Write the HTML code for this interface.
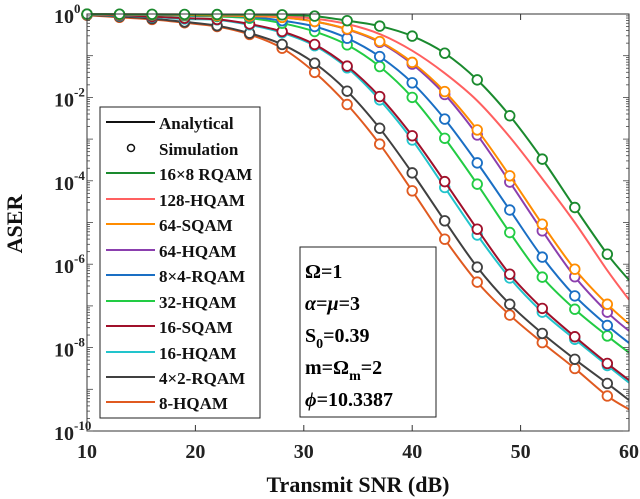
<!DOCTYPE html>
<html><head><meta charset="utf-8"><style>
body{margin:0;background:#fff;}
svg{display:block;font-family:"Liberation Serif",serif;font-weight:bold;}
</style></head><body>
<svg id="chart" width="640" height="499" viewBox="0 0 640 499" xmlns="http://www.w3.org/2000/svg">
<rect width="640" height="499" fill="#fff"/>
<g id="marks"></g>
<g id="axes"></g>
<g id="legend">
  <rect x="100" y="107" width="160" height="311" fill="#fff" stroke="#222" stroke-width="1"/>
</g>
<g id="info-box">
  <rect x="300" y="247" width="136" height="170" fill="#fff" stroke="#222" stroke-width="1"/>
  <text x="305" y="278" font-size="20">Ω=1</text>
  <text x="305" y="310" font-size="20"><tspan font-style="italic">α</tspan>=<tspan font-style="italic">μ</tspan>=3</text>
  <text x="305" y="342" font-size="20">S<tspan font-size="14" dy="6">0</tspan><tspan dy="-6">=0.39</tspan></text>
  <text x="305" y="374" font-size="20">m=Ω<tspan font-size="14" dy="6">m</tspan><tspan dy="-6">=2</tspan></text>
  <text x="305" y="406" font-size="20"><tspan font-style="italic">ϕ</tspan>=10.3387</text>
</g>
</svg>
<script>
const snr = [10,13,16,19,22,25,28,31,34,37,40,43,46,49,52,55,58,60];
const seriesNames = ["16×8 RQAM","128-HQAM","64-SQAM","64-HQAM","8×4-RQAM","32-HQAM","16-SQAM","16-HQAM","4×2-RQAM","8-HQAM"];
const seriesColors = ["#1a8a2e","#ff6060","#ff8c00","#8b3fae","#1a6fc4","#22cc44","#a0102a","#22c4cc","#404040","#e05a20"];
const hasMarkers = [true,false,true,true,true,true,true,true,true,true];
// log10(ASER) values
const s16x8 = [-0.003,-0.005,-0.007,-0.01,-0.012,-0.015,-0.02,-0.05,-0.16,-0.29,-0.53,-0.94,-1.58,-2.44,-3.48,-4.64,-5.76,-6.38];
const s128h = [-0.004,-0.006,-0.008,-0.012,-0.016,-0.025,-0.05,-0.11,-0.24,-0.48,-0.88,-1.42,-2.08,-2.95,-3.95,-5.0,-6.15,-6.85];
const s64s  = [-0.005,-0.01,-0.015,-0.02,-0.035,-0.05,-0.08,-0.18,-0.36,-0.66,-1.16,-1.86,-2.78,-3.88,-5.04,-6.12,-6.96,-7.43];
const s64h  = [-0.005,-0.01,-0.015,-0.02,-0.035,-0.05,-0.08,-0.18,-0.37,-0.68,-1.2,-1.93,-2.9,-4.03,-5.2,-6.3,-7.15,-7.6];
const s8x4  = [-0.006,-0.012,-0.02,-0.03,-0.045,-0.07,-0.16,-0.30,-0.58,-1.02,-1.65,-2.52,-3.57,-4.70,-5.83,-6.76,-7.47,-7.89];
const s32h  = [-0.007,-0.015,-0.025,-0.04,-0.06,-0.10,-0.22,-0.42,-0.74,-1.26,-2.0,-2.98,-4.08,-5.24,-6.31,-7.08,-7.72,-8.12];
const s16s  = [-0.01,-0.03,-0.06,-0.1,-0.13,-0.24,-0.42,-0.73,-1.25,-1.98,-2.92,-4.02,-5.16,-6.24,-7.06,-7.74,-8.38,-8.78];
const s16h  = [-0.01,-0.04,-0.07,-0.12,-0.14,-0.26,-0.45,-0.76,-1.29,-2.06,-3.02,-4.16,-5.30,-6.33,-7.15,-7.8,-8.43,-8.84];
const s4x2  = [-0.02,-0.06,-0.11,-0.19,-0.28,-0.46,-0.73,-1.18,-1.85,-2.74,-3.81,-4.96,-6.07,-6.96,-7.66,-8.28,-8.86,-9.26];
const s8h   = [-0.03,-0.08,-0.13,-0.21,-0.30,-0.49,-0.82,-1.40,-2.17,-3.12,-4.24,-5.40,-6.43,-7.22,-7.88,-8.50,-9.16,-9.48];
const allSeries = [s16x8,s128h,s64s,s64h,s8x4,s32h,s16s,s16h,s4x2,s8h];
const xTicks = [10,20,30,40,50,60];
const yTickExps = [0,-2,-4,-6,-8,-10];

const X0=87,X1=629,Y0=14,Y1=431;
const xScale = v => X0 + (v-10)/50*(X1-X0);
const yScale = lv => Y0 + (-lv)/10*(Y1-Y0);
const NS="http://www.w3.org/2000/svg";
function mk(tag, attrs, parent){const e=document.createElementNS(NS,tag);for(const k in attrs)e.setAttribute(k,attrs[k]);parent.appendChild(e);return e;}
const marks=document.getElementById('marks'), axes=document.getElementById('axes'), legend=document.getElementById('legend');

function pathFor(vals){
  const p=snr.map((s,i)=>[xScale(s),yScale(vals[i])]);
  let d=`M${p[0][0]},${p[0][1]}`;
  for(let i=0;i<p.length-1;i++){
    const a=p[Math.max(i-1,0)],b=p[i],c=p[i+1],e=p[Math.min(i+2,p.length-1)];
    const c1=[b[0]+(c[0]-a[0])/6,b[1]+(c[1]-a[1])/6];
    const c2=[c[0]-(e[0]-b[0])/6,c[1]-(e[1]-b[1])/6];
    d+=` C${c1[0]},${c1[1]} ${c2[0]},${c2[1]} ${c[0]},${c[1]}`;
  }
  return d;
}
const order=[9,8,7,6,5,4,3,2,1,0];
order.forEach(si=>{
  const g=mk('g',{},marks);
  
  
  const ln=mk('path',{d:pathFor(allSeries[si]),fill:'none',stroke:seriesColors[si],'stroke-width':2},g);
  
  
  if(hasMarkers[si]){
    snr.forEach((s,i)=>{
      if(s>58) return;
      const c=mk('circle',{cx:xScale(s),cy:yScale(allSeries[si][i]),r:4.8,fill:'#fff',stroke:seriesColors[si],'stroke-width':1.8},g);
      
      
    });
  }
});

// axes box
const box=mk('rect',{x:X0,y:Y0,width:X1-X0,height:Y1-Y0,fill:'none',stroke:'#333','stroke-width':1},axes);


xTicks.forEach(t=>{
  const x=xScale(t);
  mk('line',{x1:x,y1:Y1,x2:x,y2:Y1-6,stroke:'#333'},axes);
  mk('line',{x1:x,y1:Y0,x2:x,y2:Y0+6,stroke:'#333'},axes);
  const tx=mk('text',{x:x,y:Y1+27,'font-size':20,'text-anchor':'middle',fill:'#222'},axes);
  tx.textContent=t;
  
  
});
for(let d=0;d<10;d++){
  for(let m=1;m<10;m++){
    const y=yScale(-d-1+Math.log10(m));
    const len=(m===1)?6:3;
    mk('line',{x1:X0,y1:y,x2:X0+len,y2:y,stroke:'#444','stroke-width':0.8},axes);
    mk('line',{x1:X1,y1:y,x2:X1-len,y2:y,stroke:'#444','stroke-width':0.8},axes);
  }
}
yTickExps.forEach(e=>{
  const y=yScale(e);
  const tx=mk('text',{x:74,y:y+9,'font-size':20,'text-anchor':'end',fill:'#222'},axes);
  tx.textContent='10';
  
  
  const sup=mk('text',{x:74,y:y-1,'font-size':13,'text-anchor':'start',fill:'#222'},axes);
  sup.textContent=String(e);
  
  
});
const xt=mk('text',{x:358,y:492,'font-size':22,'text-anchor':'middle',fill:'#111'},axes);
xt.textContent='Transmit SNR (dB)';


const yt=mk('text',{x:0,y:0,'font-size':22,'text-anchor':'middle',fill:'#111',transform:'translate(22,224) rotate(-90)'},axes);
yt.textContent='ASER';



// legend
const rowY=[123,149,174,200,225,251,276,302,327,353,378,403];
const labels=['Analytical','Simulation'].concat(seriesNames);
labels.forEach((lab,i)=>{
  const y=rowY[i];
  const g=mk('g',{},legend);
  
  
  if(i===1){
    mk('circle',{cx:131,cy:y-1,r:3.5,fill:'#fff',stroke:'#111','stroke-width':1.5},g);
  } else {
    const col=i===0?'#111':seriesColors[i-2];
    mk('line',{x1:106,y1:y-1,x2:155,y2:y-1,stroke:col,'stroke-width':2},g);
  }
  const t=mk('text',{x:159,y:y+6,'font-size':17,fill:'#111'},g);
  t.textContent=lab;
});
</script>
</body></html>
